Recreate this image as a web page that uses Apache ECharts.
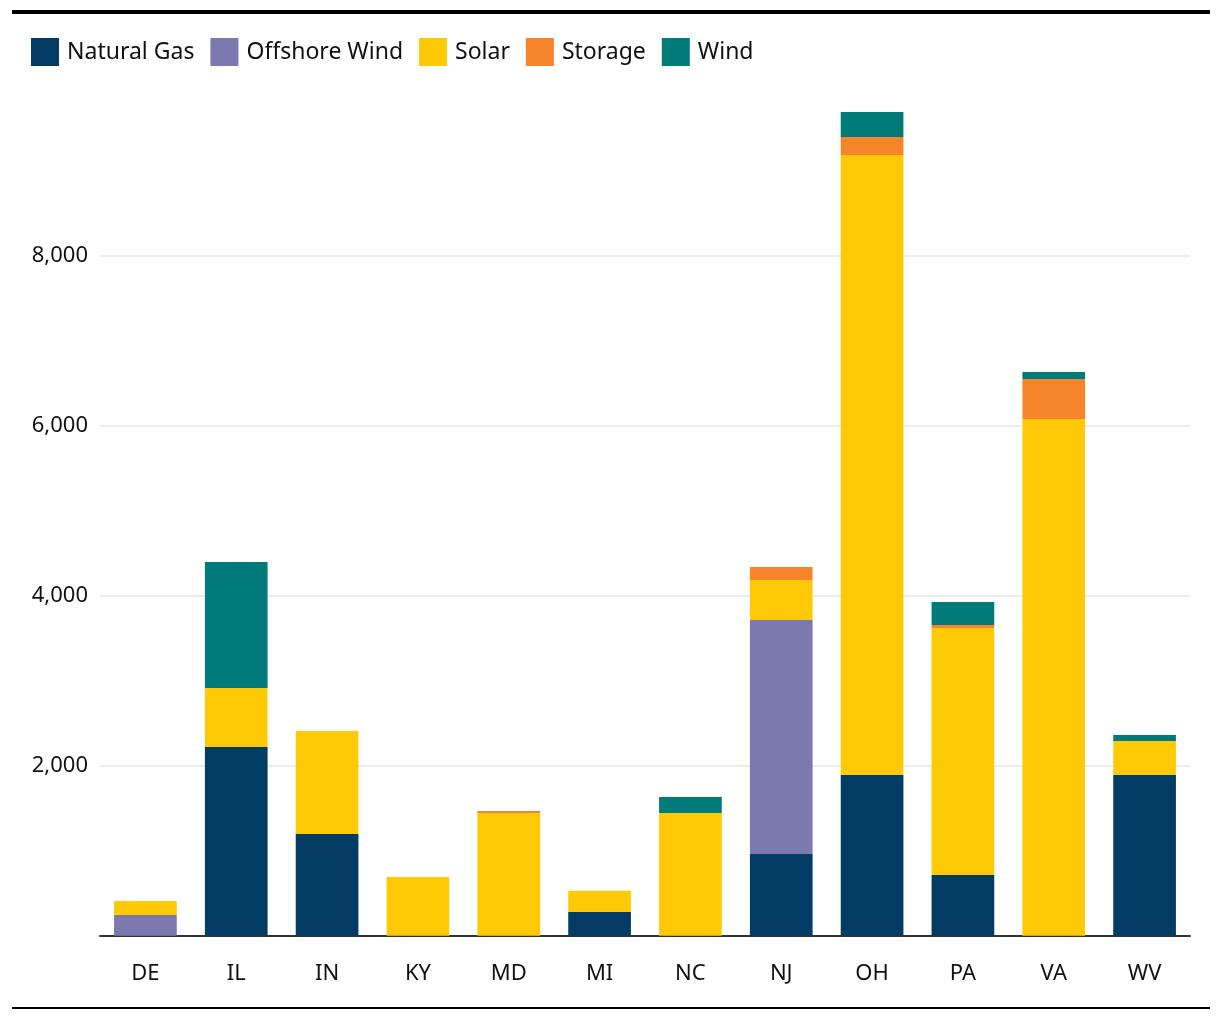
<!DOCTYPE html>
<html>
<head>
<meta charset="utf-8">
<script src="https://cdn.jsdelivr.net/npm/echarts@6/dist/echarts.min.js"></script>
<style>
html,body{margin:0;padding:0;background:#fff;}
#c{width:1220px;height:1020px;}
</style>
</head>
<body>
<div id="c"></div>
<script>
const categories = ['DE','IL','IN','KY','MD','MI','NC','NJ','OH','PA','VA','WV'];
const naturalGas   = [0, 2220, 1196, 0, 0, 280, 0, 962, 1890, 715, 0, 1890];
const offshoreWind = [243, 0, 0, 0, 0, 0, 0, 2752, 0, 0, 0, 0];
const solar        = [166, 694, 1212, 691, 1443, 248, 1443, 470, 7295, 2905, 6079, 400];
const storage      = [0, 0, 0, 0, 24, 0, 0, 153, 212, 35, 471, 0];
const wind         = [0, 1482, 0, 0, 0, 0, 188, 0, 293, 271, 82, 71];
const seriesNames  = ['Natural Gas', 'Offshore Wind', 'Solar', 'Storage', 'Wind'];
const seriesColors = ['#023c64', '#7c78b0', '#ffca05', '#f5842b', '#017b79'];
const yTicks = { min: 0, max: 10000, interval: 2000 };

const FONT = 'Noto Sans';
const chart = echarts.init(document.getElementById('c'), null, { renderer: 'canvas' });
const dataSets = [naturalGas, offshoreWind, solar, storage, wind];

chart.setOption({
  animation: false,
  backgroundColor: '#ffffff',
  textStyle: { fontFamily: FONT },
  color: seriesColors,
  graphic: [
    { type: 'rect', shape: { x: 12, y: 10, width: 1198, height: 4 }, style: { fill: '#000' } },
    { type: 'rect', shape: { x: 12, y: 1007, width: 1198, height: 2 }, style: { fill: '#000' } }
  ],
  legend: {
    left: 31, top: 38, padding: 0,
    icon: 'rect',
    itemWidth: 28, itemHeight: 28, itemGap: 16,
    textStyle: { fontFamily: FONT, fontSize: 23, color: '#111', padding: [0, 0, 0, 3] },
    data: seriesNames
  },
  grid: { left: 100, right: 30, top: 85.7, bottom: 84.3, containLabel: false },
  xAxis: {
    type: 'category',
    data: categories,
    axisLine: { lineStyle: { color: '#333', width: 2 } },
    axisTick: { alignWithLabel: true, length: 10, lineStyle: { color: '#000', width: 1.5 } },
    axisLabel: { margin: 27, fontSize: 22, color: '#111', fontFamily: FONT }
  },
  yAxis: {
    type: 'value',
    min: yTicks.min, max: yTicks.max, interval: yTicks.interval,
    axisLine: { show: false },
    axisTick: { show: false },
    axisLabel: {
      margin: 12, fontSize: 22, color: '#111', fontFamily: FONT,
      showMinLabel: false, showMaxLabel: false,
      formatter: v => v.toLocaleString('en-US')
    },
    splitLine: { show: true, showMinLine: false, showMaxLine: false, lineStyle: { color: '#e6e6e6', width: 1.5 } }
  },
  series: seriesNames.map((name, i) => ({
    name,
    type: 'bar',
    stack: 'total',
    barWidth: '69%',
    data: dataSets[i],
    itemStyle: { color: seriesColors[i] }
  }))
});
</script>
</body>
</html>
